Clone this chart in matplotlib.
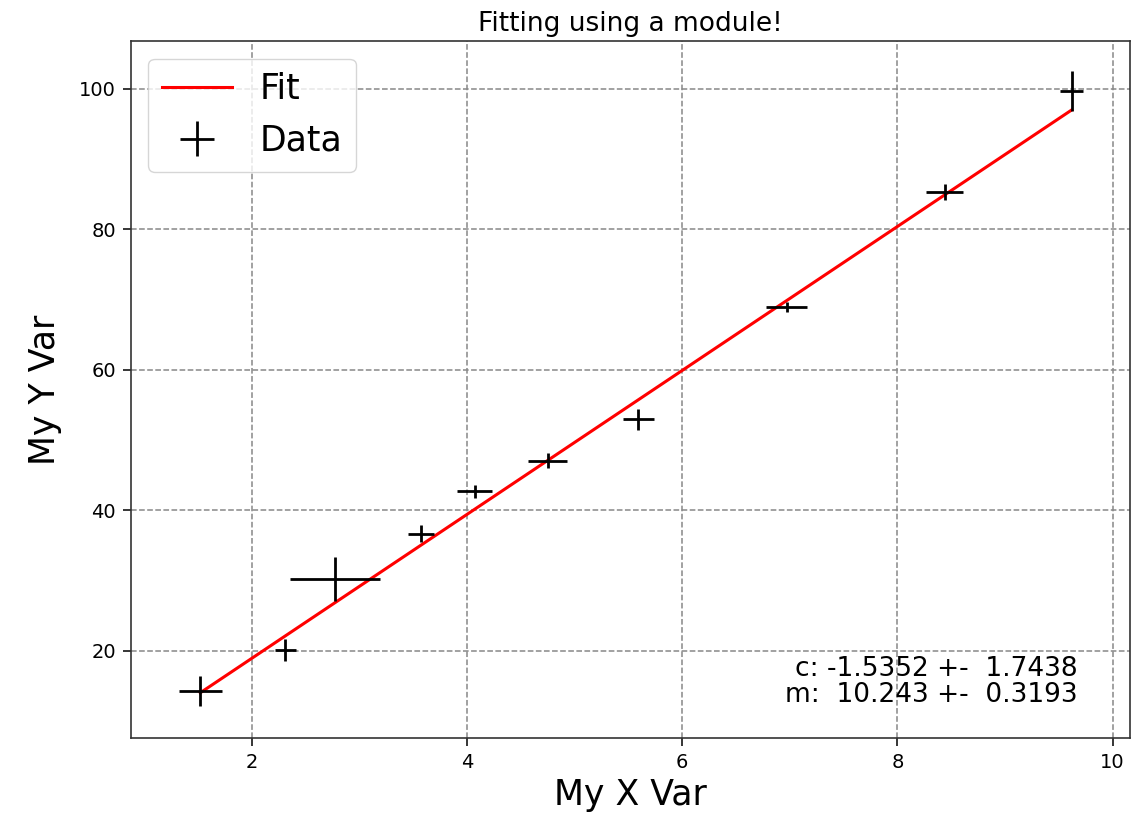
import numpy as np
import matplotlib
matplotlib.use("Agg")
import matplotlib.pyplot as plt

# data
x = np.array([1.52, 2.31, 2.77, 3.57, 4.07, 4.75, 5.59, 6.97, 8.44, 9.62])
y = np.array([14.3, 20.1, 30.2, 36.7, 42.7, 47.1, 53.0, 69.0, 85.3, 99.7])
xerr = np.array([0.20, 0.10, 0.42, 0.12, 0.16, 0.18, 0.145, 0.19, 0.17, 0.11])
yerr = np.array([2.1, 1.55, 3.1, 1.2, 0.9, 1.05, 1.5, 0.7, 1.15, 2.8])

# fit parameters as printed on the chart
c, c_err = -1.5352, 1.7438
m, m_err = 10.243, 0.3193

fig = plt.figure(figsize=(11.4, 8.15), dpi=100)
ax = fig.add_axes([0.115, 0.0945, 0.876, 0.855])

xfit = np.array([x.min(), x.max()])
ax.plot(xfit, m * xfit + c, color="r", linewidth=2.2, label="Fit")
ax.errorbar(x, y, yerr=yerr, xerr=xerr, fmt="none", ecolor="k",
            elinewidth=2, label="Data")

ax.set_xlim(0.877, 10.16)
ax.set_ylim(7.6, 106.8)
ax.set_xticks([2, 4, 6, 8, 10])
ax.set_yticks([20, 40, 60, 80, 100])
ax.tick_params(labelsize=14, length=6, width=1.1, pad=5)
for s in ax.spines.values():
    s.set_linewidth(1.2)
    s.set_color("#333333")

ax.grid(True, linestyle="--", color="#888888", linewidth=1.1)
ax.set_axisbelow(True)

ax.set_title("Fitting using a module!", fontsize=19, pad=7)
ax.set_xlabel("My X Var", fontsize=25)
ax.set_ylabel("My Y Var", fontsize=25, labelpad=12)
ax.legend(loc="upper left", fontsize=25)

ax.text(0.948, 0.043,
        "c: {:.4f} +-  {:.4f}\nm:  {:.3f} +-  {:.4f}".format(c, c_err, m, m_err),
        transform=ax.transAxes, ha="right", va="bottom", fontsize=19,
        linespacing=1.0)

fig.savefig("out.png", dpi=100)
